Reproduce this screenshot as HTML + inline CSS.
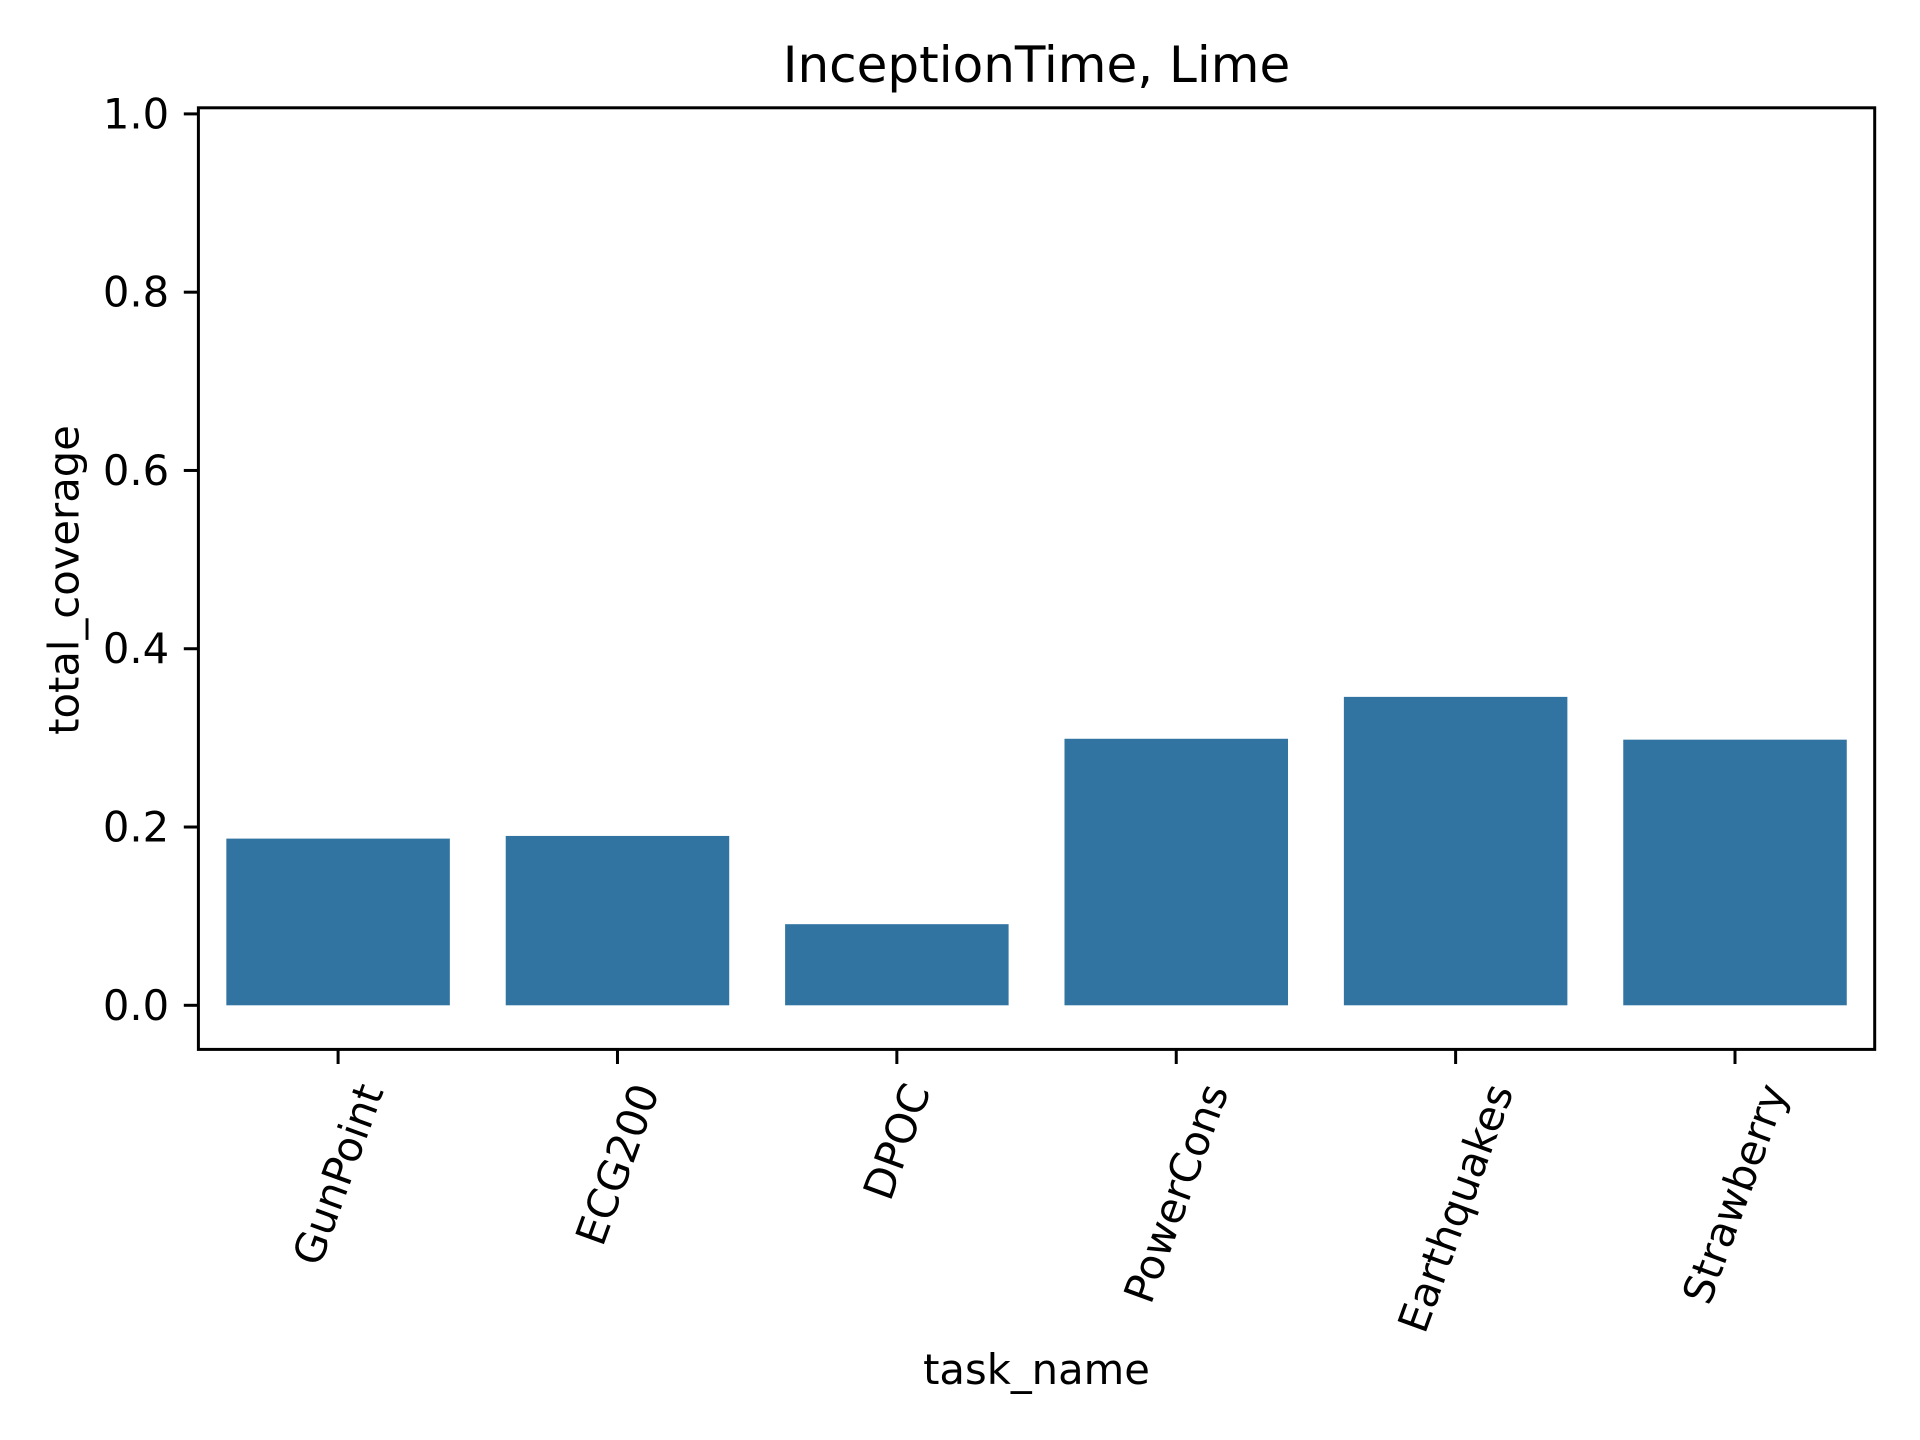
<!DOCTYPE html>
<html><head><meta charset="utf-8"><style>
html,body{margin:0;padding:0;background:#fff;}
svg{display:block;font-family:"DejaVu Sans","Liberation Sans",sans-serif;}
</style></head><body>
<svg id="chart" width="1920" height="1440" viewBox="0 0 1920 1440">
<rect width="1920" height="1440" fill="#fff"/>
<text x="1036.5" y="82" font-size="50" text-anchor="middle" fill="#000">InceptionTime, Lime</text>
<g id="bars"></g>
<g id="yaxis"></g>
<g id="xaxis"></g>
<rect x="198.4" y="107.8" width="1676.3" height="941.6" fill="none" stroke="#000" stroke-width="3"/>
<text x="64" y="580" font-size="41.7" text-anchor="middle" dominant-baseline="central" transform="rotate(-90 64 580)" fill="#000">total_coverage</text>
<text x="1036.5" y="1384" font-size="41.7" text-anchor="middle" fill="#000">task_name</text>
</svg>
<script>
const categories = ["GunPoint","ECG200","DPOC","PowerCons","Earthquakes","Strawberry"];
const values = [0.187, 0.190, 0.091, 0.299, 0.346, 0.298];
const yTicks = [0.0, 0.2, 0.4, 0.6, 0.8, 1.0];
const yTickLabels = ["0.0","0.2","0.4","0.6","0.8","1.0"];

const NS = "http://www.w3.org/2000/svg";
const L = 198.4, R = 1874.7, T = 107.8, B = 1049.4;
const y0px = 1005.3, y1px = 113.9;
const FS = 41.7, TL = 14.6, PAD = 14.6;
function yScale(v){ return y0px + (y1px - y0px) * v; }
const step = (R - L) / categories.length;
function xScale(i){ return L + step * (i + 0.5); }
const bw = step * 0.8;

const bars = document.getElementById('bars');
values.forEach((v, i) => {
  const r = document.createElementNS(NS, 'rect');
  r.setAttribute('x', xScale(i) - bw / 2);
  r.setAttribute('y', Math.min(yScale(v), yScale(0)));
  r.setAttribute('width', bw);
  r.setAttribute('height', Math.abs(yScale(0) - yScale(v)));
  r.setAttribute('fill', '#3274a1');
  
  
  bars.appendChild(r);
});

const yaxis = document.getElementById('yaxis');
yTicks.forEach((t, i) => {
  const y = yScale(t);
  const ln = document.createElementNS(NS, 'line');
  ln.setAttribute('x1', L); ln.setAttribute('x2', L - TL);
  ln.setAttribute('y1', y); ln.setAttribute('y2', y);
  ln.setAttribute('stroke', '#000'); ln.setAttribute('stroke-width', '3');
  
  
  yaxis.appendChild(ln);
  const tx = document.createElementNS(NS, 'text');
  tx.setAttribute('x', L - TL - PAD); tx.setAttribute('y', y);
  tx.setAttribute('font-size', FS); tx.setAttribute('text-anchor', 'end');
  tx.setAttribute('dominant-baseline', 'central');
  tx.textContent = yTickLabels[i];
  
  
  yaxis.appendChild(tx);
});

const xaxis = document.getElementById('xaxis');
const ang = 70 * Math.PI / 180;
categories.forEach((c, i) => {
  const x = xScale(i);
  const ln = document.createElementNS(NS, 'line');
  ln.setAttribute('x1', x); ln.setAttribute('x2', x);
  ln.setAttribute('y1', B); ln.setAttribute('y2', B + TL);
  ln.setAttribute('stroke', '#000'); ln.setAttribute('stroke-width', '3');
  
  
  xaxis.appendChild(ln);
  const tx = document.createElementNS(NS, 'text');
  tx.setAttribute('font-size', FS); tx.setAttribute('text-anchor', 'middle');
  tx.setAttribute('dominant-baseline', 'central');
  tx.textContent = c;
  
  
  xaxis.appendChild(tx);
  const w = tx.getComputedTextLength();
  const h = FS * 1.0;
  const bh = w * Math.sin(ang) + h * Math.cos(ang);
  const cy = B + TL + PAD + bh / 2;
  tx.setAttribute('x', x); tx.setAttribute('y', cy);
  tx.setAttribute('transform', 'rotate(-70 ' + x + ' ' + cy + ')');
});
</script>
</body></html>
